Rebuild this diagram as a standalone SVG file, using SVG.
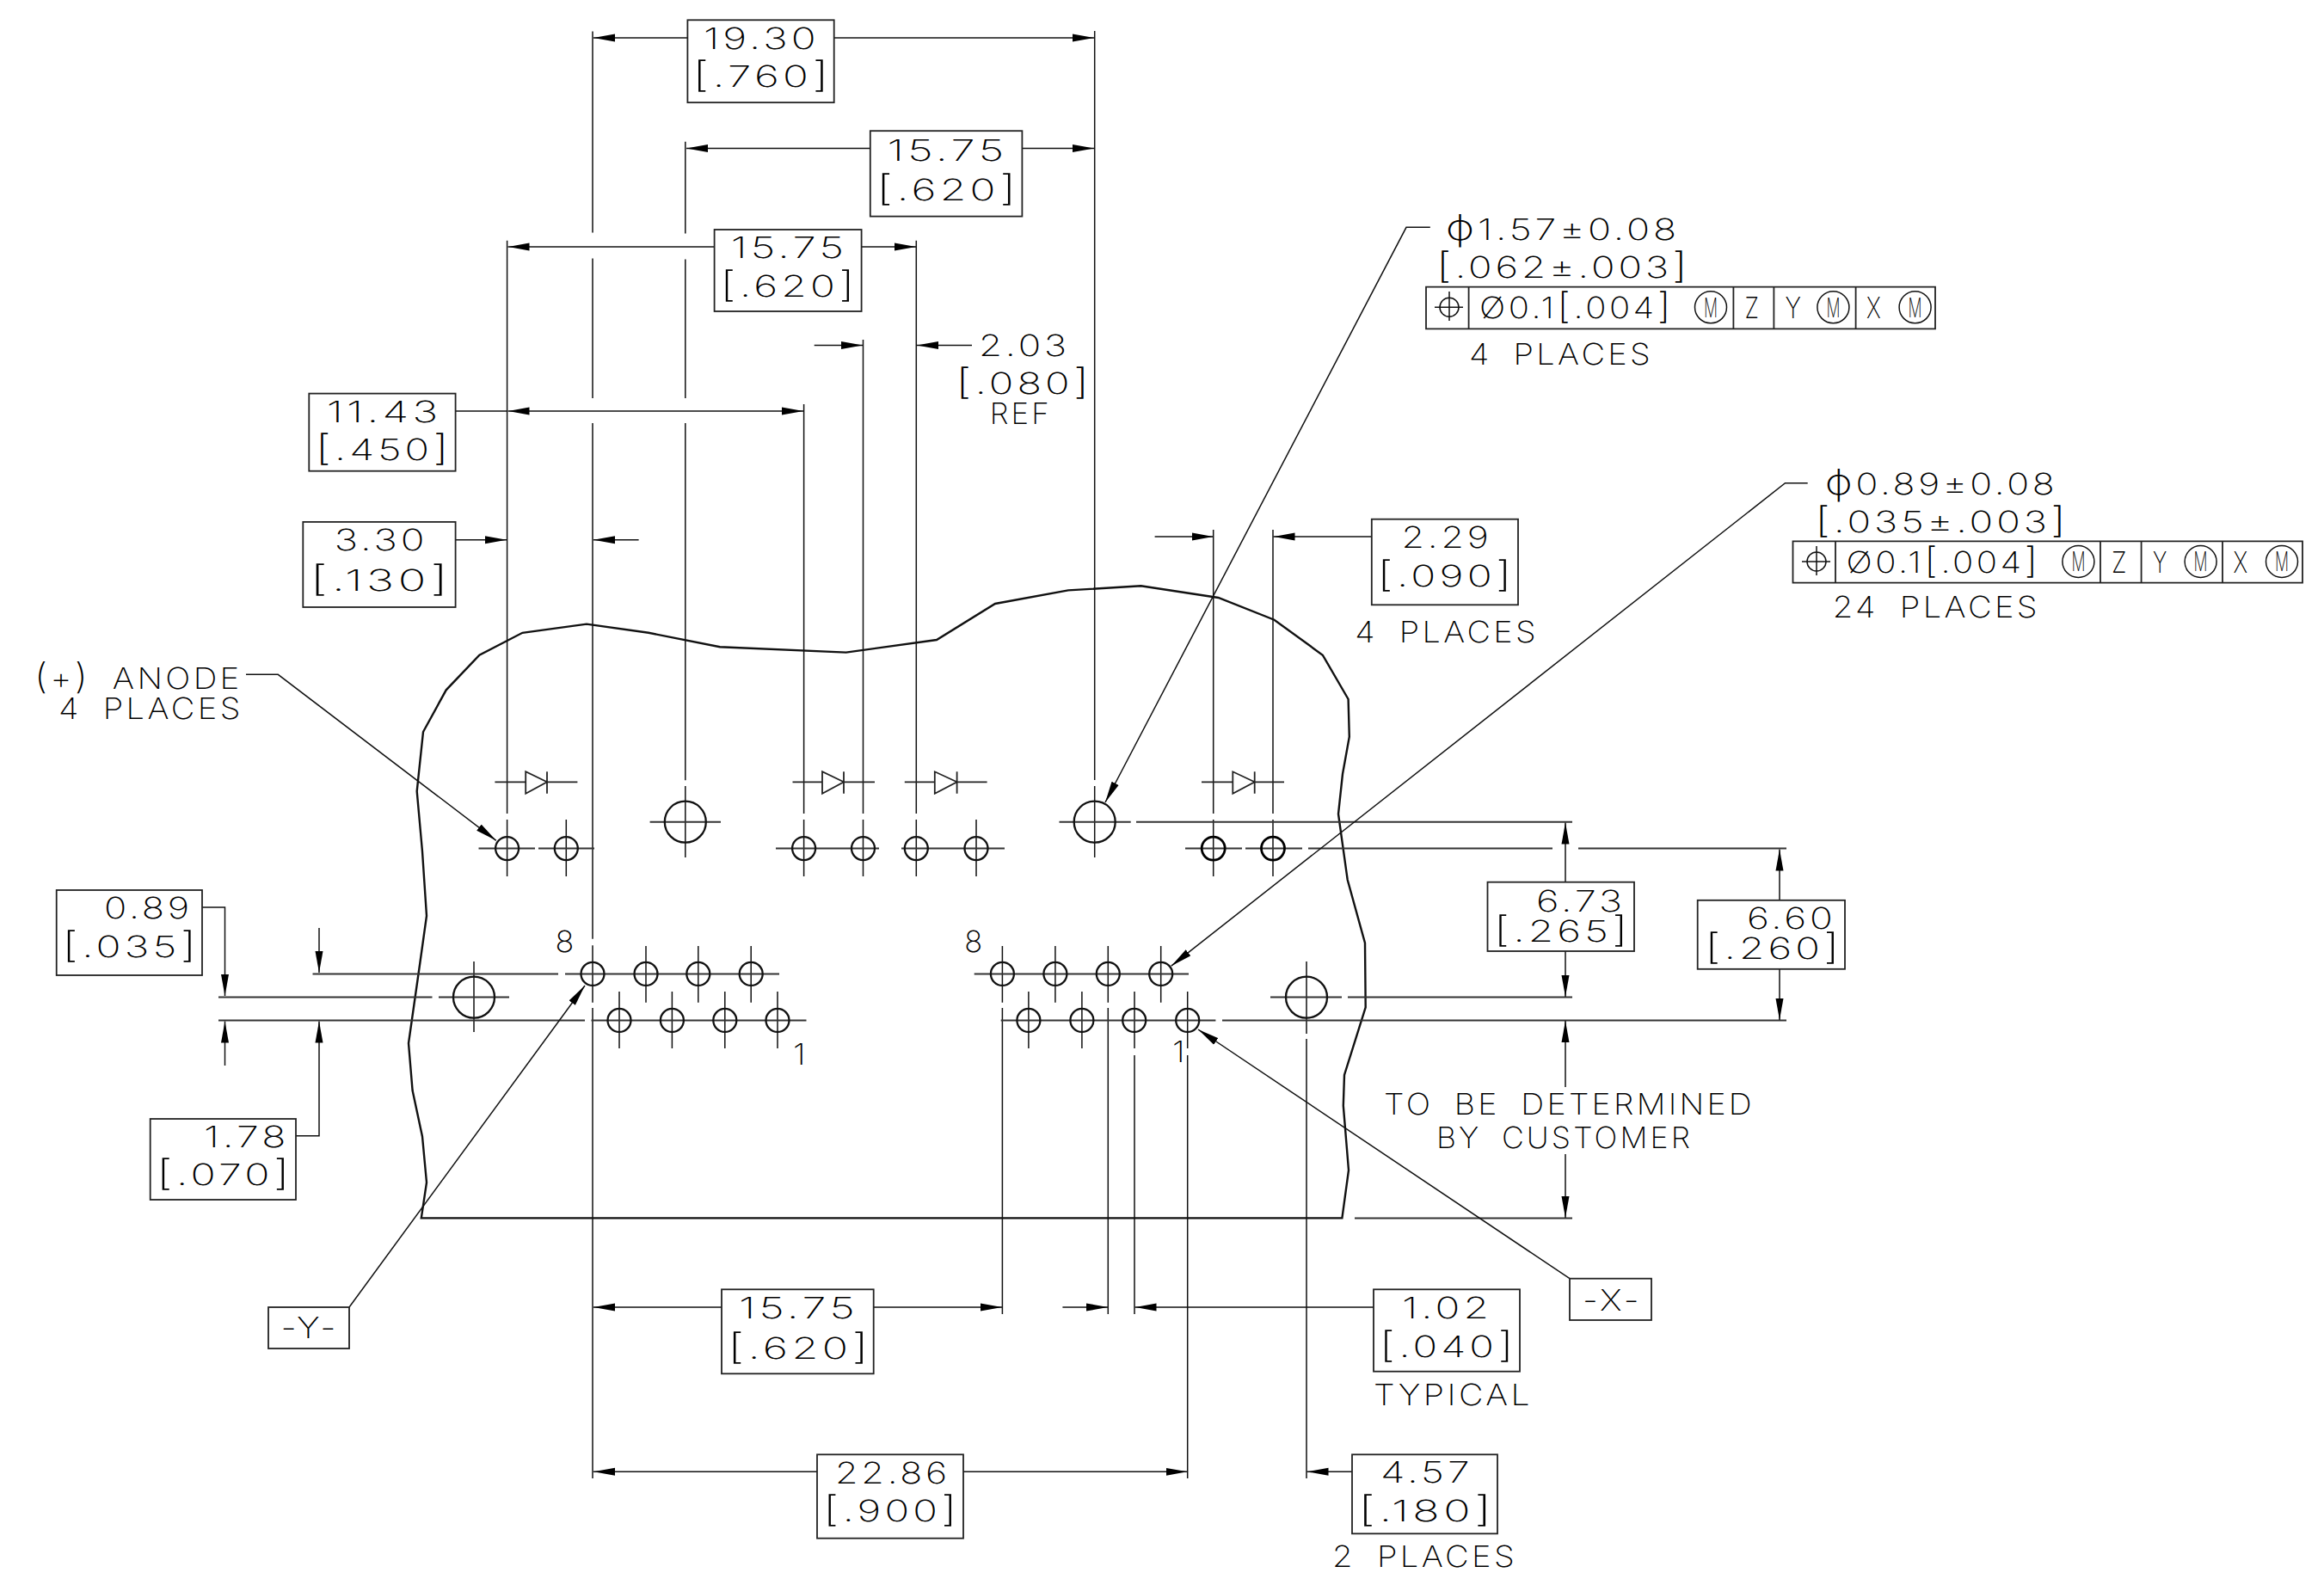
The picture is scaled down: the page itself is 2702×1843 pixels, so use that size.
<svg xmlns="http://www.w3.org/2000/svg" width="2702" height="1843" viewBox="0 0 2702 1843">
<style>
text{font-family:"Inter","Liberation Sans",sans-serif;font-weight:150;font-size:34.5px;fill:#000;letter-spacing:3px}
.m{font-size:31px;letter-spacing:0}
.s{font-size:41px}
.w{word-spacing:10px}
.l{fill:none;stroke:#111;stroke-width:1.5}
.h{fill:none;stroke:#333;stroke-width:2}
.o{fill:none;stroke:#111;stroke-width:2.4}
.c{fill:none;stroke:#111;stroke-width:2.3}
.c2{fill:none;stroke:#000;stroke-width:2.8}
.b{fill:none;stroke:#222;stroke-width:1.8}
</style>
<defs>
<marker id="a" viewBox="0 0 25 10" refX="25" refY="5" markerUnits="userSpaceOnUse" markerWidth="25" markerHeight="10" orient="auto"><path d="M0 0.500L25 5L0 9.500Z" fill="#000"/></marker>
<g id="h"><circle r="13.500" class="c"/></g>
<g id="H"><circle r="24" class="c"/></g>
</defs>
<rect width="2702" height="1843" fill="#fff"/>
<g id="outline"><path class="o" d="M489.800 1416.400L496 1375L491 1321.500L479.600 1268L475 1213L488 1122L496 1065L491 990L484.700 920L492 851L518.700 802.300L557.400 761.700L607.400 735.800L682 725.600L754 735.800L837 752.300L983.700 758.600L1089 744L1157 702L1242 686.400L1326.500 681.300L1416.500 695L1481.500 720.700L1537.800 761.700L1567.600 813L1568.800 856.700L1561 900L1556 946.400L1566.700 1023L1587 1096.400L1587.700 1171.400L1563 1250L1561.800 1285.700L1568 1360.700L1560.400 1416.400Z"/></g>
<g id="connectors">
<path class="l" d="M689 36.400V270.500M689 300.500V463M689 492V1091.700M689 1099.300V1165.700M689 1172V1719M796.800 164.800V271.500M796.800 301.500V463M796.800 492V907.300M796.800 914V997M589.600 279.700V946M589.600 953V1019M658.300 953V1019M934.600 470V946M934.600 953V1019M1003.500 395V946M1003.500 953V1019M1065.300 279.700V946M1065.300 953V1019M1135 953V1019M1272.700 36V907M1272.700 914V997M1410.700 616V946M1410.700 953V1019M1480 616V946M1480 953V1019"/>
<path class="l" d="M751 1100V1165.700M811.800 1100V1165.700M873.200 1100V1165.700M720 1153V1219M781.400 1153V1219M842.800 1153V1219M904 1153V1219M1226.900 1100V1165.700M1349.700 1100V1165.700M1195.900 1153V1219M1257.900 1153V1219M1165.400 1100V1165.700M1165.400 1172V1528M1288.300 1100V1165.700M1288.300 1172V1528M1319 1153V1219M1319 1227V1528M1380.700 1153V1219M1380.700 1227V1719M1519 1118V1202M1519 1208V1719M551 1118V1200"/>
<path class="h" d="M363.500 1132.400H649M657 1132.400H906M1132.700 1132.400H1382M254 1186.400H680M687.500 1186.400H937.500M1163.700 1186.400H1413.400M1421 1186.400H2077M254 1159.600H502.500M510 1159.600H592M1477 1159.600H1560M1567 1159.600H1828M556.500 986.600H622M626 986.600H691M902 986.600H1022M1048 986.600H1168M1378 986.600H1444M1448 986.600H1514M1521 986.600H1805M1835 986.600H2077M755.600 955.700H838M1231.500 955.700H1314.700M1321 955.700H1828M1575 1416.400H1828"/>
<g class="l">
<line x1="799.400" y1="44" x2="690" y2="44" marker-end="url(#a)"/>
<line x1="969.700" y1="44" x2="1272" y2="44" marker-end="url(#a)"/>
<line x1="1011.800" y1="172.600" x2="798" y2="172.600" marker-end="url(#a)"/>
<line x1="1188.400" y1="172.600" x2="1272" y2="172.600" marker-end="url(#a)"/>
<line x1="830.600" y1="287" x2="590.500" y2="287" marker-end="url(#a)"/>
<line x1="1001.600" y1="287" x2="1065" y2="287" marker-end="url(#a)"/>
<line x1="529.600" y1="478" x2="590" y2="478"/>
<line x1="760" y1="478" x2="590.500" y2="478" marker-end="url(#a)"/>
<line x1="760" y1="478" x2="934" y2="478" marker-end="url(#a)"/>
<line x1="529.600" y1="627.700" x2="589" y2="627.700" marker-end="url(#a)"/>
<line x1="742.600" y1="627.700" x2="690" y2="627.700" marker-end="url(#a)"/>
<line x1="946.700" y1="401.400" x2="1003" y2="401.400" marker-end="url(#a)"/>
<line x1="1130" y1="401.400" x2="1066" y2="401.400" marker-end="url(#a)"/>
<line x1="1342.600" y1="624" x2="1410.500" y2="624" marker-end="url(#a)"/>
<line x1="1594.800" y1="624" x2="1480.500" y2="624" marker-end="url(#a)"/>
<polyline points="235,1055 261.500,1055 261.500,1158" marker-end="url(#a)"/>
<line x1="261.500" y1="1239" x2="261.500" y2="1187.500" marker-end="url(#a)"/>
<line x1="371" y1="1079" x2="371" y2="1131" marker-end="url(#a)"/>
<polyline points="344,1320.700 371,1320.700 371,1187.500" marker-end="url(#a)"/>
<line x1="839" y1="1520" x2="690" y2="1520" marker-end="url(#a)"/>
<line x1="1015.700" y1="1520" x2="1165" y2="1520" marker-end="url(#a)"/>
<line x1="1235.400" y1="1520" x2="1288" y2="1520" marker-end="url(#a)"/>
<line x1="1597" y1="1520" x2="1319.500" y2="1520" marker-end="url(#a)"/>
<line x1="950" y1="1711.300" x2="690" y2="1711.300" marker-end="url(#a)"/>
<line x1="1120" y1="1711.300" x2="1380.500" y2="1711.300" marker-end="url(#a)"/>
<line x1="1572" y1="1711.300" x2="1519.500" y2="1711.300" marker-end="url(#a)"/>
<line x1="1820" y1="1025.700" x2="1820" y2="956.500" marker-end="url(#a)"/>
<line x1="1820" y1="1106" x2="1820" y2="1159" marker-end="url(#a)"/>
<line x1="2069" y1="1046.800" x2="2069" y2="987.500" marker-end="url(#a)"/>
<line x1="2069" y1="1126.800" x2="2069" y2="1186" marker-end="url(#a)"/>
<line x1="1820" y1="1264" x2="1820" y2="1187" marker-end="url(#a)"/>
<line x1="1820" y1="1342" x2="1820" y2="1416" marker-end="url(#a)"/>
<polyline points="1662.800,264.300 1635,264.300 1285,933" marker-end="url(#a)"/>
<polyline points="2101.700,561.700 2075.500,561.700 1361.800,1123.200" marker-end="url(#a)"/>
<polyline points="286,784.300 323.300,784.300 576.800,977.300" marker-end="url(#a)"/>
<line x1="406" y1="1520" x2="680" y2="1146" marker-end="url(#a)"/>
<line x1="1825" y1="1486.700" x2="1393" y2="1197" marker-end="url(#a)"/>
</g>
</g>
<g id="holes">
<use href="#h" x="589.600" y="986.600"/><use href="#h" x="658.300" y="986.600"/><use href="#H" x="796.800" y="955.700"/><use href="#h" x="934.600" y="986.600"/><use href="#h" x="1003.500" y="986.600"/><use href="#h" x="1065.300" y="986.600"/><use href="#h" x="1135" y="986.600"/><use href="#H" x="1272.700" y="955.700"/><circle class="c2" cx="1410.700" cy="986.600" r="13.500"/><circle class="c2" cx="1480" cy="986.600" r="13.500"/>
<use href="#h" x="689" y="1132.400"/><use href="#h" x="751" y="1132.400"/><use href="#h" x="811.800" y="1132.400"/><use href="#h" x="873.200" y="1132.400"/><use href="#h" x="720" y="1186.400"/><use href="#h" x="781.400" y="1186.400"/><use href="#h" x="842.800" y="1186.400"/><use href="#h" x="904" y="1186.400"/>
<use href="#h" x="1165.400" y="1132.400"/><use href="#h" x="1226.900" y="1132.400"/><use href="#h" x="1288.300" y="1132.400"/><use href="#h" x="1349.700" y="1132.400"/><use href="#h" x="1195.900" y="1186.400"/><use href="#h" x="1257.900" y="1186.400"/><use href="#h" x="1318.700" y="1186.400"/><use href="#h" x="1380.700" y="1186.400"/>
<use href="#H" x="551" y="1159.600"/><use href="#H" x="1519" y="1159.600"/>
</g>
<g id="diode-1"><path class="b" d="M575.400 909.300H611.200L611.200 897.300L636 909.300L611.200 922.700V909.300M636 897.300V922.700M636 909.300H671.400"/></g>
<g id="diode-2"><path class="b" d="M921.500 909.300H956V897.300L981 909.300L956 922.700V909.300M981 897.300V922.700M981 909.300H1017"/></g>
<g id="diode-3"><path class="b" d="M1051.800 909.300H1086.800V897.300L1112.600 909.300L1086.800 922.700V909.300M1112.600 897.300V922.700M1112.600 909.300H1147.600"/></g>
<g id="diode-4"><path class="b" d="M1397 909.300H1433.300V897.300L1458.700 909.300L1433.300 922.700V909.300M1458.700 897.300V922.700M1458.700 909.300H1493"/></g>
<g id="dim-19-30"><rect class="b" x="799.400" y="23.300" width="170.300" height="95.900"/><text x="817.900" y="57.200" textLength="135" lengthAdjust="spacingAndGlyphs">19.30</text><text x="805" y="100.800" textLength="163" lengthAdjust="spacingAndGlyphs"><tspan class="s">[</tspan>.760<tspan class="s">]</tspan></text></g>
<g id="dim-15-75-a"><rect class="b" x="1011.800" y="152.200" width="176.600" height="99.400"/><text x="1031.500" y="186.600" textLength="140" lengthAdjust="spacingAndGlyphs">15.75</text><text x="1018.800" y="232.700" textLength="167" lengthAdjust="spacingAndGlyphs"><tspan class="s">[</tspan>.620<tspan class="s">]</tspan></text></g>
<g id="dim-15-75-b"><rect class="b" x="830.600" y="267" width="171" height="95"/><text x="849.800" y="299.600" textLength="135.600" lengthAdjust="spacingAndGlyphs">15.75</text><text x="837" y="345" textLength="161" lengthAdjust="spacingAndGlyphs"><tspan class="s">[</tspan>.620<tspan class="s">]</tspan></text></g>
<g id="dim-2-03"><text x="1138" y="414.400" textLength="105.700" lengthAdjust="spacingAndGlyphs">2.03</text><text x="1111" y="458" textLength="159.500" lengthAdjust="spacingAndGlyphs"><tspan class="s">[</tspan>.080<tspan class="s">]</tspan></text><text x="1150.800" y="493" textLength="71.900" lengthAdjust="spacingAndGlyphs">REF</text></g>
<g id="dim-11-43"><rect class="b" x="359.300" y="457.600" width="170.300" height="90.100"/><text x="379.700" y="490.500" textLength="133.800" lengthAdjust="spacingAndGlyphs">11.43</text><text x="366.400" y="534.700" textLength="159.600" lengthAdjust="spacingAndGlyphs"><tspan class="s">[</tspan>.450<tspan class="s">]</tspan></text></g>
<g id="dim-3-30"><rect class="b" x="352.300" y="606.900" width="177.300" height="99.100"/><text x="388.700" y="640" textLength="108.800" lengthAdjust="spacingAndGlyphs">3.30</text><text x="360" y="686.900" textLength="166" lengthAdjust="spacingAndGlyphs"><tspan class="s">[</tspan>.130<tspan class="s">]</tspan></text></g>
<g id="dim-2-29"><rect class="b" x="1594.800" y="603.700" width="170.200" height="99.600"/><text x="1629.600" y="637" textLength="104.800" lengthAdjust="spacingAndGlyphs">2.29</text><text x="1601" y="681.700" textLength="161" lengthAdjust="spacingAndGlyphs"><tspan class="s">[</tspan>.090<tspan class="s">]</tspan></text><text class="w" x="1575.300" y="746.700" textLength="213.500" lengthAdjust="spacingAndGlyphs">4 PLACES</text></g>
<g id="anode-note"><text class="w" x="40" y="801.300" textLength="241.700" lengthAdjust="spacingAndGlyphs"><tspan class="s">(</tspan>+<tspan class="s">)</tspan> ANODE</text><text class="w" x="68" y="835.700" textLength="214.700" lengthAdjust="spacingAndGlyphs">4 PLACES</text></g>
<g id="dim-0-89"><rect class="b" x="65.700" y="1035" width="169.300" height="99"/><text x="121" y="1068" textLength="103" lengthAdjust="spacingAndGlyphs">0.89</text><text x="72" y="1113" textLength="160.600" lengthAdjust="spacingAndGlyphs"><tspan class="s">[</tspan>.035<tspan class="s">]</tspan></text></g>
<g id="dim-1-78"><rect class="b" x="174.700" y="1301" width="169.300" height="94"/><text x="237" y="1334" textLength="99.500" lengthAdjust="spacingAndGlyphs">1.78</text><text x="181.800" y="1378" textLength="159.200" lengthAdjust="spacingAndGlyphs"><tspan class="s">[</tspan>.070<tspan class="s">]</tspan></text></g>
<g id="datum-y"><rect class="b" x="312" y="1520" width="94" height="48"/><text x="326.500" y="1555.700" textLength="67.500" lengthAdjust="spacingAndGlyphs">-Y-</text></g>
<g id="datum-x"><rect class="b" x="1825" y="1486.700" width="95" height="48.300"/><text x="1840" y="1524" textLength="69" lengthAdjust="spacingAndGlyphs">-X-</text></g>
<g id="pin-labels"><text x="645.400" y="1107" textLength="25" lengthAdjust="spacingAndGlyphs">8</text><text x="1121.200" y="1107" textLength="24" lengthAdjust="spacingAndGlyphs">8</text><text x="922" y="1238" textLength="18" lengthAdjust="spacingAndGlyphs">1</text><text x="1363" y="1235" textLength="18" lengthAdjust="spacingAndGlyphs">1</text></g>
<g id="dim-6-73"><rect class="b" x="1729.500" y="1025.700" width="170.500" height="80.300"/><text x="1786" y="1059.600" textLength="104" lengthAdjust="spacingAndGlyphs">6.73</text><text x="1736.500" y="1094.600" textLength="160.500" lengthAdjust="spacingAndGlyphs"><tspan class="s">[</tspan>.265<tspan class="s">]</tspan></text></g>
<g id="dim-6-60"><rect class="b" x="1973.700" y="1046.800" width="171.300" height="80"/><text x="2031" y="1079.600" textLength="103.600" lengthAdjust="spacingAndGlyphs">6.60</text><text x="1982" y="1115" textLength="161" lengthAdjust="spacingAndGlyphs"><tspan class="s">[</tspan>.260<tspan class="s">]</tspan></text></g>
<g id="note-customer"><text class="w" x="1609" y="1296" textLength="431" lengthAdjust="spacingAndGlyphs">TO BE DETERMINED</text><text class="w" x="1670" y="1335" textLength="298" lengthAdjust="spacingAndGlyphs">BY CUSTOMER</text></g>
<g id="dim-15-75-c"><rect class="b" x="839" y="1499.300" width="176.700" height="98"/><text x="859" y="1533.300" textLength="139" lengthAdjust="spacingAndGlyphs">15.75</text><text x="845.700" y="1580" textLength="168.800" lengthAdjust="spacingAndGlyphs"><tspan class="s">[</tspan>.620<tspan class="s">]</tspan></text></g>
<g id="dim-1-02"><rect class="b" x="1597" y="1499.300" width="170" height="95.400"/><text x="1630" y="1533" textLength="105" lengthAdjust="spacingAndGlyphs">1.02</text><text x="1603.600" y="1578" textLength="160.400" lengthAdjust="spacingAndGlyphs"><tspan class="s">[</tspan>.040<tspan class="s">]</tspan></text><text x="1597" y="1634.300" textLength="185" lengthAdjust="spacingAndGlyphs">TYPICAL</text></g>
<g id="dim-22-86"><rect class="b" x="950" y="1691.300" width="170" height="97.400"/><text x="971" y="1725" textLength="134" lengthAdjust="spacingAndGlyphs">22.86</text><text x="956.800" y="1769" textLength="160.200" lengthAdjust="spacingAndGlyphs"><tspan class="s">[</tspan>.900<tspan class="s">]</tspan></text></g>
<g id="dim-4-57"><rect class="b" x="1572" y="1691.300" width="169" height="92"/><text x="1605" y="1724" textLength="107.700" lengthAdjust="spacingAndGlyphs">4.57</text><text x="1578.700" y="1769" textLength="160.300" lengthAdjust="spacingAndGlyphs"><tspan class="s">[</tspan>.180<tspan class="s">]</tspan></text><text class="w" x="1549" y="1821.700" textLength="215" lengthAdjust="spacingAndGlyphs">2 PLACES</text></g>
<g id="fcf-1">
<text x="1680.700" y="279" textLength="272.300" lengthAdjust="spacingAndGlyphs"><tspan class="s">ϕ</tspan>1.57±0.08</text><text x="1669.700" y="323.300" textLength="296.300" lengthAdjust="spacingAndGlyphs"><tspan class="s">[</tspan>.062±.003<tspan class="s">]</tspan></text>
<path class="b" d="M1658 333.700H2250V382.300H1658ZM1707.600 333.700V382.300M2015.400 333.700V382.300M2062.400 333.700V382.300M2157.600 333.700V382.300"/>
<path class="l" d="M1668 357.300H1701M1685 339V373"/><circle class="l" cx="1685" cy="357.300" r="11"/>
<text x="1720" y="370" textLength="226" lengthAdjust="spacingAndGlyphs">Ø0.1<tspan class="s">[</tspan>.004<tspan class="s">]</tspan></text>
<circle class="l" cx="1989" cy="357.300" r="18.500"/><circle class="l" cx="2131.400" cy="357.300" r="18.500"/><circle class="l" cx="2226.600" cy="357.300" r="18.500"/>
<text class="m" x="1981" y="368.500" textLength="16" lengthAdjust="spacingAndGlyphs">M</text><text class="m" x="2123.400" y="368.500" textLength="16" lengthAdjust="spacingAndGlyphs">M</text><text class="m" x="2218.600" y="368.500" textLength="16" lengthAdjust="spacingAndGlyphs">M</text>
<text x="2028.600" y="370" textLength="18.800" lengthAdjust="spacingAndGlyphs">Z</text><text x="2075.500" y="370" textLength="20.900" lengthAdjust="spacingAndGlyphs">Y</text><text x="2170" y="370" textLength="19" lengthAdjust="spacingAndGlyphs">X</text>
<text class="w" x="1708" y="424" textLength="214" lengthAdjust="spacingAndGlyphs">4 PLACES</text>
</g>
<g id="fcf-2">
<text x="2121.700" y="575" textLength="270.800" lengthAdjust="spacingAndGlyphs"><tspan class="s">ϕ</tspan>0.89±0.08</text><text x="2110" y="619.300" textLength="296" lengthAdjust="spacingAndGlyphs"><tspan class="s">[</tspan>.035±.003<tspan class="s">]</tspan></text>
<path class="b" d="M2084.500 629.300H2677V677.700H2084.500ZM2134 629.300V677.700M2442 629.300V677.700M2489.600 629.300V677.700M2584 629.300V677.700"/>
<path class="l" d="M2095 653H2128M2112 635V669"/><circle class="l" cx="2112" cy="653" r="11"/>
<text x="2146.600" y="665.700" textLength="226.400" lengthAdjust="spacingAndGlyphs">Ø0.1<tspan class="s">[</tspan>.004<tspan class="s">]</tspan></text>
<circle class="l" cx="2416.400" cy="653" r="18.500"/><circle class="l" cx="2558.600" cy="653" r="18.500"/><circle class="l" cx="2653" cy="653" r="18.500"/>
<text class="m" x="2408.400" y="664.200" textLength="16" lengthAdjust="spacingAndGlyphs">M</text><text class="m" x="2550.600" y="664.200" textLength="16" lengthAdjust="spacingAndGlyphs">M</text><text class="m" x="2645" y="664.200" textLength="16" lengthAdjust="spacingAndGlyphs">M</text>
<text x="2455" y="665.700" textLength="20" lengthAdjust="spacingAndGlyphs">Z</text><text x="2503" y="665.700" textLength="18.500" lengthAdjust="spacingAndGlyphs">Y</text><text x="2596.500" y="665.700" textLength="18.900" lengthAdjust="spacingAndGlyphs">X</text>
<text class="w" x="2130.700" y="718" textLength="241.100" lengthAdjust="spacingAndGlyphs">24 PLACES</text>
</g>
</svg>
